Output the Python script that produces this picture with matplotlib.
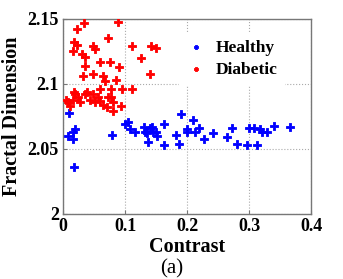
import numpy as np
import matplotlib
matplotlib.use('Agg')
import matplotlib.pyplot as plt

plt.rcParams['font.family'] = 'Liberation Serif'

# healthy subjects (contrast, fractal dimension)
healthy_x = [0.010, 0.019, 0.016, 0.008, 0.016, 0.018, 0.079, 0.100, 0.105, 0.108,
             0.116, 0.131, 0.132, 0.135, 0.137, 0.140, 0.144, 0.145, 0.150, 0.152,
             0.163, 0.163, 0.182, 0.187, 0.190, 0.200, 0.200, 0.210, 0.213, 0.219,
             0.227, 0.242, 0.265, 0.273, 0.281, 0.297, 0.300, 0.308, 0.313, 0.318,
             0.321, 0.329, 0.340, 0.366]
healthy_y = [2.078, 2.065, 2.063, 2.060, 2.058, 2.036, 2.061, 2.069, 2.071, 2.065,
             2.063, 2.067, 2.063, 2.062, 2.055, 2.066, 2.067, 2.063, 2.063, 2.060,
             2.069, 2.053, 2.061, 2.054, 2.077, 2.065, 2.063, 2.072, 2.063, 2.066,
             2.058, 2.062, 2.059, 2.066, 2.054, 2.053, 2.066, 2.066, 2.053, 2.065,
             2.063, 2.063, 2.068, 2.067]

# diabetic subjects
diabetic_x = [0.034, 0.023, 0.073, 0.018, 0.023, 0.016, 0.048, 0.052, 0.031, 0.035,
              0.060, 0.076, 0.089, 0.111, 0.142, 0.150, 0.126, 0.090, 0.140, 0.085,
              0.077, 0.095, 0.111, 0.077, 0.094, 0.081, 0.035, 0.048, 0.065, 0.032,
              0.060, 0.018, 0.039, 0.008, 0.016, 0.024, 0.027, 0.035, 0.048, 0.052,
              0.060, 0.065, 0.056, 0.073, 0.071, 0.081, 0.011, 0.044, 0.005, 0.019,
              0.068]
diabetic_y = [2.147, 2.142, 2.135, 2.132, 2.130, 2.125, 2.129, 2.127, 2.123, 2.121,
              2.117, 2.117, 2.148, 2.129, 2.129, 2.128, 2.120, 2.113, 2.108, 2.103,
              2.096, 2.096, 2.096, 2.090, 2.083, 2.079, 2.114, 2.108, 2.106, 2.106,
              2.096, 2.094, 2.094, 2.086, 2.088, 2.090, 2.086, 2.092, 2.092, 2.086,
              2.087, 2.084, 2.090, 2.090, 2.082, 2.086, 2.083, 2.088, 2.088, 2.092,
              2.102]

xticks = [0, 0.1, 0.2, 0.3, 0.4]
yticks = [2, 2.05, 2.1, 2.15]

fig = plt.figure(figsize=(3.43, 2.79), dpi=100)
ax = fig.add_axes([0.184, 0.233, 0.723, 0.699])

ax.scatter(healthy_x, healthy_y, marker='P', s=26, color='#0000ff',
           edgecolors='#0000ff', linewidths=0.6, label='Healthy', zorder=3)
ax.scatter(diabetic_x, diabetic_y, marker='P', s=26, color='#ff0000',
           edgecolors='#ff0000', linewidths=0.6, label='Diabetic', zorder=3)

ax.set_xlim(0, 0.4)
ax.set_ylim(2, 2.15)
ax.set_xticks(xticks)
ax.set_xticklabels(['0', '0.1', '0.2', '0.3', '0.4'])
ax.set_yticks(yticks)
ax.set_yticklabels(['2', '2.05', '2.1', '2.15'])
ax.tick_params(direction='in', length=3, labelsize=13, color='#777777', pad=3)
for lbl in ax.get_xticklabels() + ax.get_yticklabels():
    lbl.set_fontweight('bold')
ax.grid(True, linestyle=':', color='#aaaaaa', linewidth=0.8)
for sp in ax.spines.values():
    sp.set_color('#777777')
    sp.set_linewidth(1.0)

ax.set_xlabel('Contrast', fontsize=14.5, fontweight='bold', labelpad=1)
ax.set_ylabel('Fractal Dimension', fontsize=14.5, fontweight='bold', labelpad=4)

leg = ax.legend(loc='upper right', bbox_to_anchor=(0.927, 0.975), frameon=True,
                fancybox=False, edgecolor='white', framealpha=1,
                markerscale=0.55, handletextpad=0.5, handlelength=1.2,
                labelspacing=0.35,
                prop={'family': 'Liberation Serif', 'weight': 'bold', 'size': 12.5})

fig.text(0.5, 0.018, '(a)', ha='center', fontsize=15)

fig.savefig('out.png', dpi=100)
